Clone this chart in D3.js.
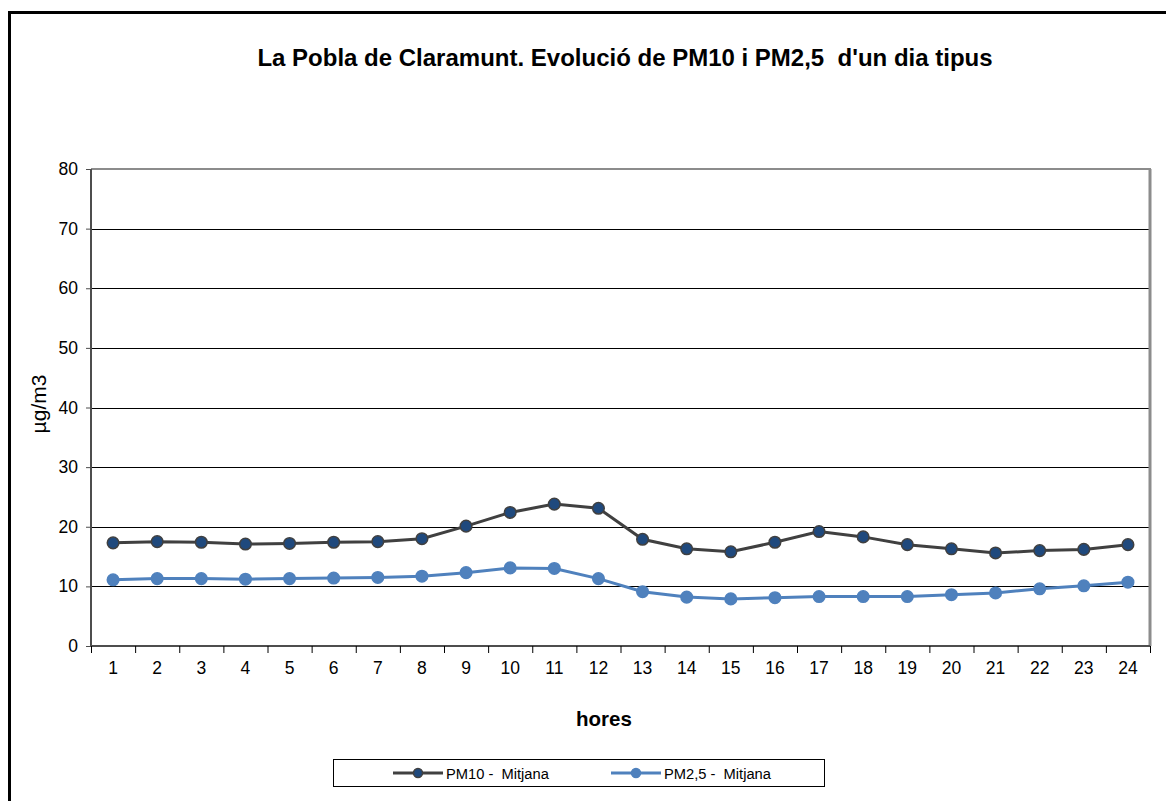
<!DOCTYPE html>
<html>
<head>
<meta charset="utf-8">
<script src="https://cdn.jsdelivr.net/npm/d3@7"></script>
<style>
body{margin:0;background:#fff;}
svg{display:block;font-family:"Liberation Sans",Arial,sans-serif;}
</style>
</head>
<body>
<svg id="chart" width="1166" height="801"></svg>
<script>
// dades llegides del gràfic
var hores = ["1","2","3","4","5","6","7","8","9","10","11","12","13","14","15","16","17","18","19","20","21","22","23","24"];
var pm10 = [17.3,17.5,17.4,17.1,17.2,17.4,17.5,18.0,20.1,22.4,23.8,23.1,17.9,16.3,15.8,17.4,19.2,18.3,17.0,16.3,15.6,16.0,16.2,17.0];
var pm25 = [11.1,11.3,11.3,11.2,11.3,11.4,11.5,11.7,12.3,13.1,13.0,11.3,9.1,8.2,7.9,8.1,8.3,8.3,8.3,8.6,8.9,9.6,10.1,10.7];
var yTicks = [0,10,20,30,40,50,60,70,80];
var series = [
	{name:"PM10 -  Mitjana", values:pm10, line:"#404040", fill:"#1f497d", stroke:"#404040"},
	{name:"PM2,5 -  Mitjana", values:pm25, line:"#4f81bd", fill:"#4f81bd", stroke:"#4f81bd"}
];

var svg = d3.select("svg#chart");
var margin = {top:169, right:16, bottom:155, left:91};
var width = 1166 - margin.left - margin.right;
var height = 801 - margin.top - margin.bottom;

// marc exterior
svg.append("rect")
	.attr("x",9.5).attr("y",12.5)
	.attr("width",1200).attr("height",850)
	.attr("fill","none").attr("stroke","#000").attr("stroke-width",3);

svg.append("text")
	.attr("x",625).attr("y",66)
	.attr("text-anchor","middle")
	.style("font-size","24px").style("font-weight","bold")
	.style("white-space","pre")
	.text("La Pobla de Claramunt. Evolució de PM10 i PM2,5  d'un dia tipus");

var g = svg.append("g").attr("transform","translate("+margin.left+","+margin.top+")");

var x = d3.scaleBand().domain(hores).range([0,width]);
var y = d3.scaleLinear().domain([0,80]).range([height,0]);

// línies de graella
g.append("g").selectAll("line")
	.data(yTicks.filter(function(d){ return d>0 && d<80; }))
	.enter().append("line")
	.attr("x1",0).attr("x2",width)
	.attr("y1",function(d){ return Math.round(y(d))+0.5; })
	.attr("y2",function(d){ return Math.round(y(d))+0.5; })
	.attr("stroke","#000").attr("stroke-width",1);

// vora superior i dreta (ombra grisa)
g.append("line").attr("x1",0).attr("x2",width+1).attr("y1",0).attr("y2",0)
	.attr("stroke","#8c8c8c").attr("stroke-width",2);
g.append("line").attr("x1",width).attr("x2",width).attr("y1",0).attr("y2",height)
	.attr("stroke","#8c8c8c").attr("stroke-width",3);

// eix Y
var yAxis = d3.axisLeft(y).tickValues(yTicks).tickSize(5).tickPadding(8);
var gy = g.append("g").call(yAxis);
gy.select(".domain").attr("stroke","#4d4d4d").attr("stroke-width",2).attr("d","M0,0V"+height);
gy.selectAll(".tick line").attr("stroke","#4d4d4d");
gy.selectAll("text").style("font-size","17.5px").attr("fill","#000")
	.attr("font-family","Liberation Sans, Arial, sans-serif");

// eix X
var xb = d3.scaleLinear().domain([0,hores.length]).range([0,width]);
var xAxis = d3.axisBottom(xb).tickValues(d3.range(0,hores.length+1)).tickSize(7).tickFormat("");
var gx = g.append("g").attr("transform","translate(0,"+height+")").call(xAxis);
gx.select(".domain").attr("stroke","#4d4d4d").attr("stroke-width",2).attr("d","M0,0H"+width);
gx.selectAll(".tick line").attr("stroke","#000");
g.append("g").selectAll("text")
	.data(hores).enter().append("text")
	.attr("x",function(d){ return x(d)+x.bandwidth()/2; })
	.attr("y",height+28)
	.attr("text-anchor","middle")
	.style("font-size","17.5px")
	.text(function(d){ return d; });

// títols dels eixos
svg.append("text")
	.attr("transform","translate(46,404) rotate(-90)")
	.attr("text-anchor","middle")
	.style("font-size","21px")
	.text("µg/m3");
svg.append("text")
	.attr("x",604).attr("y",726)
	.attr("text-anchor","middle")
	.style("font-size","20.5px").style("font-weight","bold")
	.text("hores");

// sèries
var line = d3.line()
	.x(function(d,i){ return x(hores[i])+x.bandwidth()/2; })
	.y(function(d){ return y(d); });

series.forEach(function(s){
	g.append("path").datum(s.values)
		.attr("d",line)
		.attr("fill","none")
		.attr("stroke",s.line)
		.attr("stroke-width",3);
	g.append("g").selectAll("circle")
		.data(s.values).enter().append("circle")
		.attr("cx",function(d,i){ return x(hores[i])+x.bandwidth()/2; })
		.attr("cy",function(d){ return y(d); })
		.attr("r",5.8)
		.attr("fill",s.fill)
		.attr("stroke",s.stroke)
		.attr("stroke-width",1.5);
});

// llegenda
var lg = svg.append("g");
lg.append("rect")
	.attr("x",333.5).attr("y",759.5)
	.attr("width",491).attr("height",27)
	.attr("fill","#fff").attr("stroke","#000").attr("stroke-width",1);
var legX = [393,611];
series.forEach(function(s,i){
	var lx = legX[i];
	lg.append("line").attr("x1",lx).attr("x2",lx+50).attr("y1",773).attr("y2",773)
		.attr("stroke",s.line).attr("stroke-width",3);
	lg.append("circle").attr("cx",lx+25).attr("cy",773).attr("r",4.5)
		.attr("fill",s.fill).attr("stroke",s.stroke).attr("stroke-width",1.5);
	lg.append("text").attr("x",lx+53).attr("y",778.5)
		.style("font-size","14.7px").style("white-space","pre")
		.text(s.name);
});
</script>
</body>
</html>
